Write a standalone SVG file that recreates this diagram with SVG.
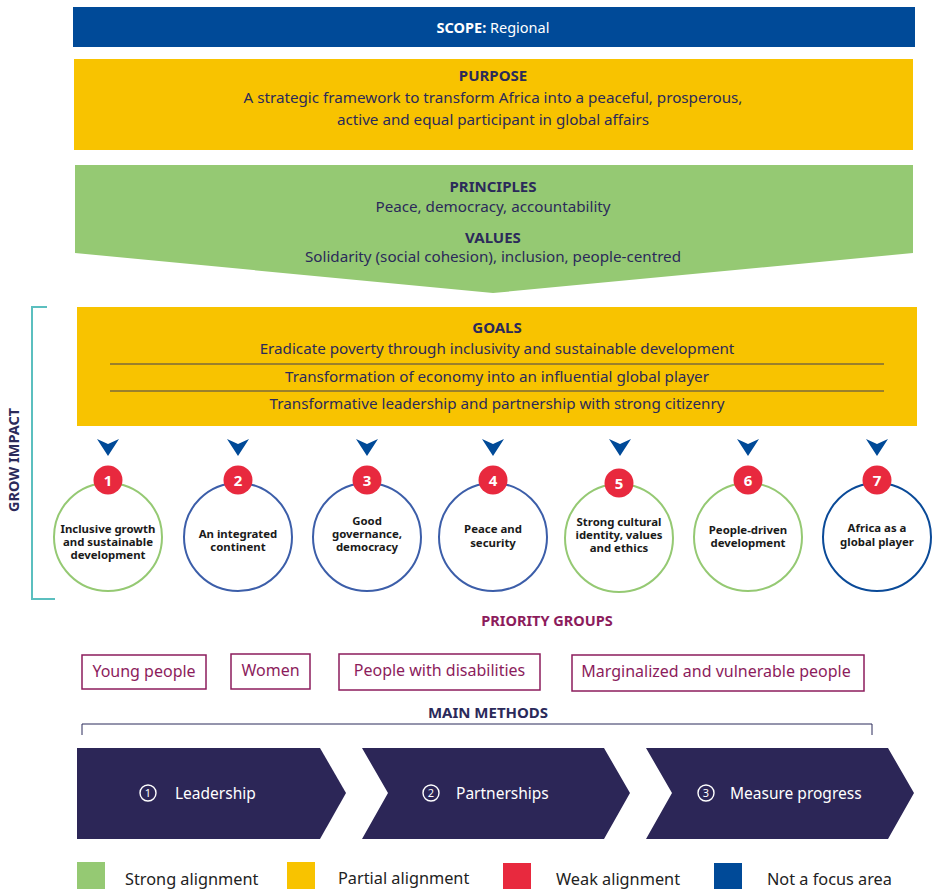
<svg xmlns="http://www.w3.org/2000/svg" width="933" height="889" viewBox="0 0 933 889">
<style>
text{font-family:"Noto Sans","Open Sans","Liberation Sans",sans-serif}
.h{font-size:15px;font-weight:bold;fill:#2b2a5a;text-anchor:middle}
.t{font-size:15.2px;fill:#2b2a5a;text-anchor:middle}
.ct{font-size:11.4px;font-weight:bold;fill:#1a1a1a;text-anchor:middle}
.num{font-size:15px;font-weight:bold;fill:#fff;text-anchor:middle}
.red{fill:#e8293e}
.cg{fill:#fff;stroke:#95c973;stroke-width:2}
.cb{fill:#fff;stroke:#3c5ea9;stroke-width:2}
.cd{fill:#fff;stroke:#0a4a98;stroke-width:2}
.arr{fill:#004a98}
.pg{fill:#fff;stroke:#8c1c5c;stroke-width:1.5}
.pt{font-size:16px;fill:#8c1c5c;text-anchor:middle}
.chev{fill:#2c2657}
.mt{font-size:15.5px;fill:#fff}
.md{font-size:11px;fill:#fff;text-anchor:middle}
.lg{font-size:16.3px;fill:#222}
</style>
<g id="scope">
<rect x="73" y="7" width="842" height="40" fill="#004a98"/>
<text x="493" y="33" font-size="14.5px" fill="#fff" text-anchor="middle"><tspan font-weight="bold">SCOPE:</tspan> Regional</text>
</g>
<g id="purpose">
<rect x="74" y="59" width="839" height="91" fill="#f8c300"/>
<text class="h" x="493" y="81">PURPOSE</text>
<text class="t" x="493" y="103">A strategic framework to transform Africa into a peaceful, prosperous,</text>
<text class="t" x="493" y="125">active and equal participant in global affairs</text>
</g>
<g id="principles">
<polygon points="75,165 913,165 913,253 493,293 75,253" fill="#95c973"/>
<text class="h" x="493" y="192">PRINCIPLES</text>
<text class="t" x="493" y="212">Peace, democracy, accountability</text>
<text class="h" x="493" y="243">VALUES</text>
<text class="t" x="493" y="262">Solidarity (social cohesion), inclusion, people-centred</text>
</g>
<g id="goals">
<rect x="77" y="307" width="840" height="119" fill="#f8c300"/>
<text class="h" x="497" y="333">GOALS</text>
<text class="t" x="497" y="354">Eradicate poverty through inclusivity and sustainable development</text>
<line x1="110" y1="364" x2="884" y2="364" stroke="#7d6a3a" stroke-width="1.3"/>
<text class="t" x="497" y="382">Transformation of economy into an influential global player</text>
<line x1="110" y1="391" x2="884" y2="391" stroke="#7d6a3a" stroke-width="1.3"/>
<text class="t" x="497" y="409">Transformative leadership and partnership with strong citizenry</text>
</g>
<g id="grow-impact">
<polyline points="47,307 32,307 32,599 55,599" fill="none" stroke="#5bbfbf" stroke-width="2"/>
<text x="0" y="0" transform="translate(19,460) rotate(-90)" font-size="14.5px" font-weight="bold" fill="#2b2a5a" text-anchor="middle">GROW IMPACT</text>
</g>
<g id="connectors">
<polygon class="arr" points="97,439 108,444 119,439 108,456"/>
<polygon class="arr" points="227,439 238,444 249,439 238,456"/>
<polygon class="arr" points="356,439 367,444 378,439 367,456"/>
<polygon class="arr" points="482,439 493,444 504,439 493,456"/>
<polygon class="arr" points="609,439 620,444 631,439 620,456"/>
<polygon class="arr" points="737,439 748,444 759,439 748,456"/>
<polygon class="arr" points="866,439 877,444 888,439 877,456"/>
</g>
<g id="p1">
<circle class="cg" cx="108" cy="537" r="54"/>
<circle class="red" cx="108" cy="480" r="14.5"/>
<text class="num" x="108" y="485.5">1</text>
<text class="ct" x="108" y="533">Inclusive growth</text>
<text class="ct" x="108" y="546">and sustainable</text>
<text class="ct" x="108" y="559">development</text>
</g>
<g id="p2">
<circle class="cb" cx="238" cy="537" r="54"/>
<circle class="red" cx="238" cy="480" r="14.5"/>
<text class="num" x="238" y="485.5">2</text>
<text class="ct" x="238" y="538">An integrated</text>
<text class="ct" x="238" y="551">continent</text>
</g>
<g id="p3">
<circle class="cb" cx="367" cy="537" r="54"/>
<circle class="red" cx="367" cy="480" r="14.5"/>
<text class="num" x="367" y="485.5">3</text>
<text class="ct" x="367" y="525">Good</text>
<text class="ct" x="367" y="538">governance,</text>
<text class="ct" x="367" y="551">democracy</text>
</g>
<g id="p4">
<circle class="cb" cx="493" cy="537" r="54"/>
<circle class="red" cx="493" cy="480" r="14.5"/>
<text class="num" x="493" y="485.5">4</text>
<text class="ct" x="493" y="533">Peace and</text>
<text class="ct" x="493" y="547">security</text>
</g>
<g id="p5">
<circle class="cg" cx="619" cy="538" r="54"/>
<circle class="red" cx="619" cy="483" r="14.5"/>
<text class="num" x="619" y="488.5">5</text>
<text class="ct" x="619" y="526">Strong cultural</text>
<text class="ct" x="619" y="539">identity, values</text>
<text class="ct" x="619" y="552">and ethics</text>
</g>
<g id="p6">
<circle class="cg" cx="748" cy="537" r="54"/>
<circle class="red" cx="748" cy="480" r="14.5"/>
<text class="num" x="748" y="485.5">6</text>
<text class="ct" x="748" y="534">People-driven</text>
<text class="ct" x="748" y="547">development</text>
</g>
<g id="p7">
<circle class="cd" cx="877" cy="537" r="54"/>
<circle class="red" cx="877" cy="480" r="14.5"/>
<text class="num" x="877" y="485.5">7</text>
<text class="ct" x="877" y="532">Africa as a</text>
<text class="ct" x="877" y="546">global player</text>
</g>
<g id="priority-groups">
<text x="547" y="626" font-size="14.5px" font-weight="bold" fill="#8c1c5c" text-anchor="middle">PRIORITY GROUPS</text>
<rect class="pg" x="82" y="655" width="124" height="34"/>
<text class="pt" x="144" y="677">Young people</text>
<rect class="pg" x="231" y="654" width="79" height="35"/>
<text class="pt" x="270.5" y="676">Women</text>
<rect class="pg" x="339" y="654" width="201" height="36"/>
<text class="pt" x="439.5" y="676">People with disabilities</text>
<rect class="pg" x="572" y="655" width="292" height="36"/>
<text class="pt" x="716" y="677">Marginalized and vulnerable people</text>
</g>
<g id="main-methods">
<text class="h" x="488" y="718">MAIN METHODS</text>
<polyline points="82,735 82,724 872,724 872,735" fill="none" stroke="#2b2a5a" stroke-width="1"/>
</g>
<g id="m1">
<polygon class="chev" points="77,748 320,748 346,793 320,839 77,839"/>
<circle cx="148" cy="793" r="8" fill="none" stroke="#fff" stroke-width="1.4"/>
<text class="md" x="148" y="797">1</text>
<text class="mt" x="175" y="798.5">Leadership</text>
</g>
<g id="m2">
<polygon class="chev" points="362,748 604,748 630,793 604,839 362,839 388,793"/>
<circle cx="431" cy="793" r="8" fill="none" stroke="#fff" stroke-width="1.4"/>
<text class="md" x="431" y="797">2</text>
<text class="mt" x="456" y="798.5">Partnerships</text>
</g>
<g id="m3">
<polygon class="chev" points="646,748 888,748 914,793 888,839 646,839 672,793"/>
<circle cx="706" cy="793" r="8" fill="none" stroke="#fff" stroke-width="1.4"/>
<text class="md" x="706" y="797">3</text>
<text class="mt" x="730" y="798.5">Measure progress</text>
</g>
<g id="legend">
<rect x="77" y="862" width="28" height="27" fill="#95c973"/>
<text class="lg" x="125" y="885">Strong alignment</text>
<rect x="287" y="862" width="28" height="27" fill="#f8c300"/>
<text class="lg" x="338" y="884">Partial alignment</text>
<rect x="503" y="863" width="28" height="26" fill="#e8293e"/>
<text class="lg" x="556" y="885">Weak alignment</text>
<rect x="714" y="863" width="28" height="26" fill="#004a98"/>
<text class="lg" x="767" y="885">Not a focus area</text>
</g>
</svg>
